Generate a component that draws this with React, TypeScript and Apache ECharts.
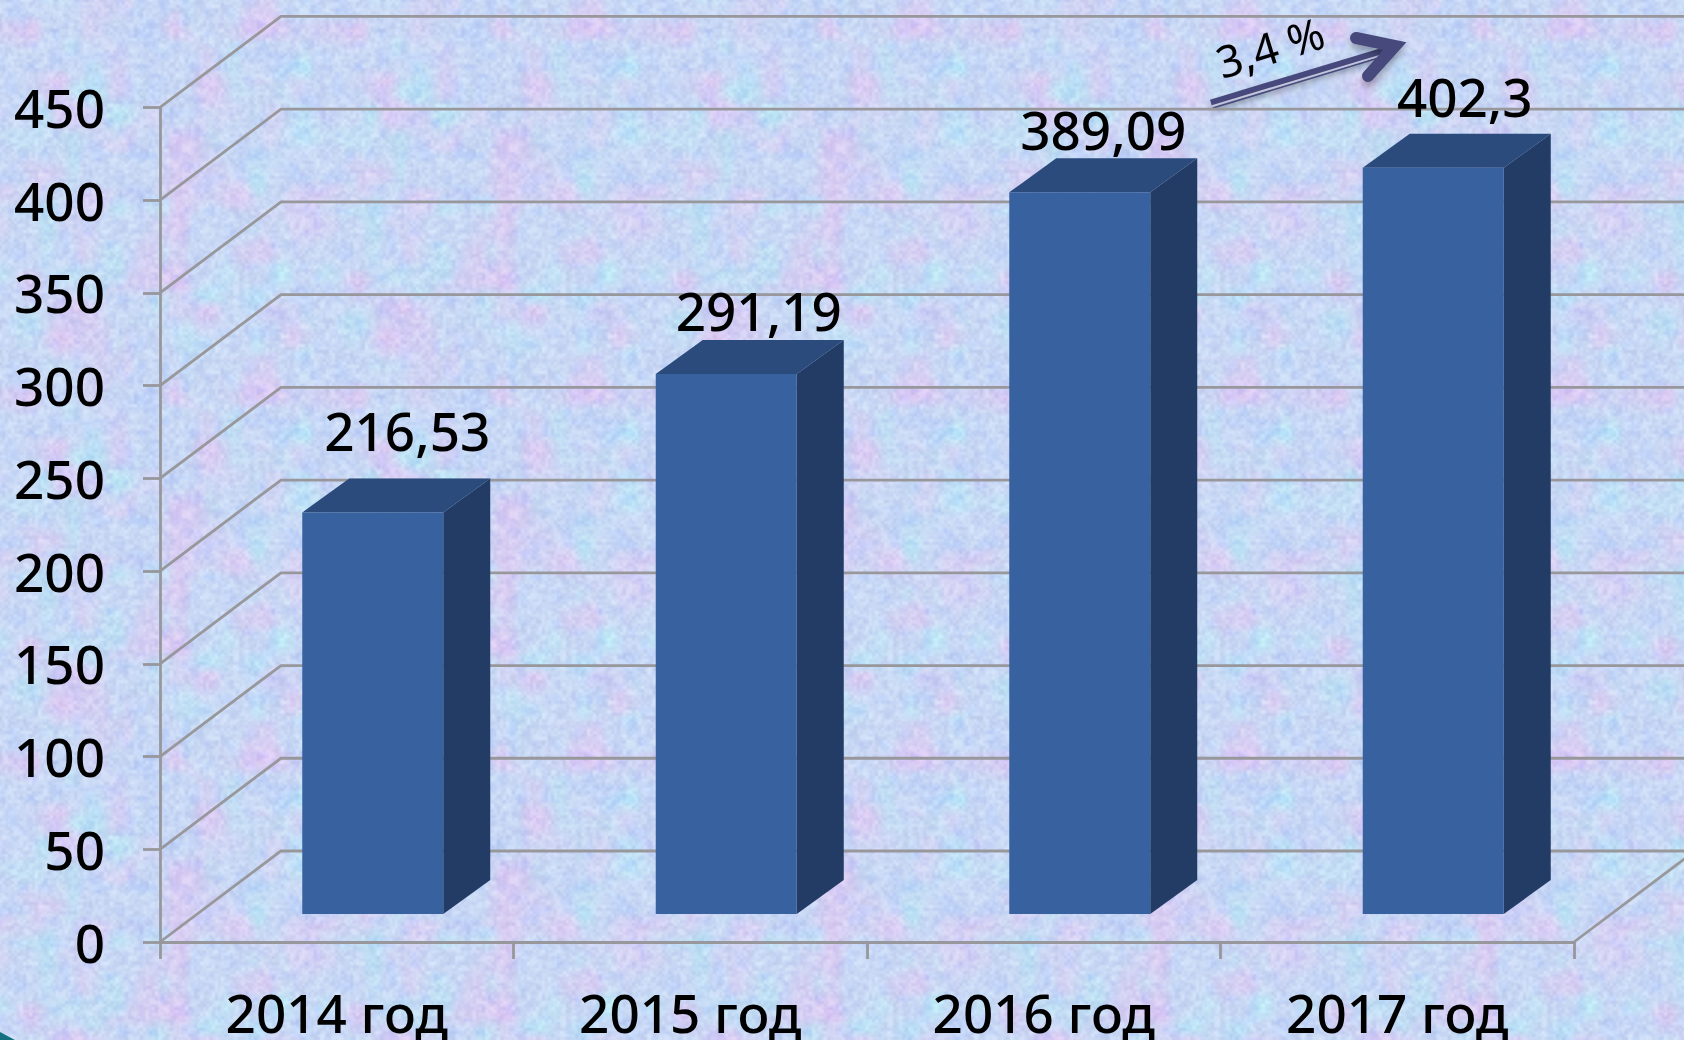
import React, { useEffect, useRef } from "react";
import * as echarts from "echarts";

const categories = ["2014 год", "2015 год", "2016 год", "2017 год"];
const values = [216.53, 291.19, 389.09, 402.3];
const yTicks = [0, 50, 100, 150, 200, 250, 300, 350, 400, 450];
const growthLabel = "3,4 %";

// Placement of the value labels relative to the top of each column (style only)
const labelShiftX = [11, 9, 0, 8];
const labelGap = [48, 29, 29, 37];

const FONT = '"Noto Sans", "Open Sans", sans-serif';
const LINE = "#97979c";
const DEPTH_X = 121;
const DEPTH_Y = 91;
const BAR_DX = 47;
const BAR_DY = 34;
const BAR_SHIFT_X = 36;
const BAR_SHIFT_Y = -28;
const BAR_W = 141;
const LINE_W = 2.8;

function makeTexture(): string {
  const w = 327;
  const h = 366;
  const c = document.createElement("canvas");
  c.width = w;
  c.height = h;
  const ctx = c.getContext("2d")!;
  let seed = 12345;
  const rnd = () => {
    seed = (seed * 1664525 + 1013904223) >>> 0;
    return seed / 4294967296;
  };
  const layer = (n: number) => {
    const cols = Math.round(w / n);
    const rows = Math.round(h / n);
    const g: number[] = [];
    for (let i = 0; i < cols * rows; i++) g.push(rnd());
    return (x: number, y: number) => {
      const fx = (x / w) * cols;
      const fy = (y / h) * rows;
      const ix = Math.floor(fx);
      const iy = Math.floor(fy);
      const sx = fx - ix;
      const sy = fy - iy;
      const tx = sx * sx * (3 - 2 * sx);
      const ty = sy * sy * (3 - 2 * sy);
      const at = (a: number, b: number) => g[((b % rows) * cols) + (a % cols)];
      const top = at(ix, iy) * (1 - tx) + at(ix + 1, iy) * tx;
      const bot = at(ix, iy + 1) * (1 - tx) + at(ix + 1, iy + 1) * tx;
      return top * (1 - ty) + bot * ty;
    };
  };
  const pinkA = layer(29);
  const cyanA = layer(23);
  const blueA = layer(11);
  const fine1 = layer(5);
  const fine2 = layer(3);
  const img = ctx.createImageData(w, h);
  for (let y = 0; y < h; y++) {
    for (let x = 0; x < w; x++) {
      const p = Math.max(0, pinkA(x, y) - 0.5) * 2;
      const q = Math.max(0, cyanA(x, y) - 0.5) * 2;
      const b = Math.max(0, blueA(x, y) - 0.5) * 2;
      const f = (fine1(x, y) - 0.5) * 16 + (fine2(x, y) - 0.5) * 16;
      const r = 201 + p * 20 - q * 14 - b * 12 + f;
      const gg = 216 - p * 14 + q * 12 - b * 7 + f;
      const bl = 244 - p * 2 + b * 4 + f * 0.5;
      const i = (y * w + x) * 4;
      img.data[i] = r;
      img.data[i + 1] = gg;
      img.data[i + 2] = bl;
      img.data[i + 3] = 255;
    }
  }
  ctx.putImageData(img, 0, 0);
  return c.toDataURL("image/png");
}

export default function App() {
  const ref = useRef<HTMLDivElement>(null);
  useEffect(() => {
    document.body.style.margin = "0";
    document.body.style.overflow = "hidden";
    const el = ref.current!;
    el.style.backgroundImage = `url(${makeTexture()})`;
    const chart = echarts.init(el, undefined, { renderer: "svg" });
    const lineStyle = { stroke: LINE, lineWidth: LINE_W, fill: "none" };
    chart.setOption({
      animation: false,
      backgroundColor: "transparent",
      grid: { left: 160, right: 110, top: 107.4, bottom: 98, containLabel: false },
      xAxis: {
        type: "category",
        data: categories,
        boundaryGap: true,
        axisLine: { show: true, lineStyle: { color: LINE, width: LINE_W } },
        axisTick: { show: true, length: 17, alignWithLabel: false, lineStyle: { color: LINE, width: LINE_W } },
        axisLabel: { interval: 0, margin: 46, fontFamily: FONT, fontWeight: 500, fontSize: 53, lineHeight: 48, color: "#000" },
        splitLine: { show: false },
      },
      yAxis: {
        type: "value",
        min: 0,
        max: 450,
        interval: 50,
        axisLine: { show: true, lineStyle: { color: LINE, width: LINE_W } },
        axisTick: { show: true, length: 17, lineStyle: { color: LINE, width: LINE_W } },
        axisLabel: { margin: 55, fontFamily: FONT, fontWeight: 500, fontSize: 53, color: "#000", padding: [0, 0, 4, 0] },
        splitLine: { show: false },
      },
      series: [
        {
          type: "custom",
          silent: true,
          z: 1,
          encode: { x: 0, y: 1 },
          data: yTicks.map((v) => [0, v]),
          renderItem: (params: any, api: any) => {
            const cs = params.coordSys;
            const y = api.coord([0, api.value(1)])[1];
            const x0 = cs.x;
            const children: any[] = [
              {
                type: "polyline",
                shape: { points: [[x0, y], [x0 + DEPTH_X, y - DEPTH_Y], [1700, y - DEPTH_Y]] },
                style: lineStyle,
              },
            ];
            if (api.value(1) === 0) {
              const xr = cs.x + cs.width;
              children.push({
                type: "line",
                shape: { x1: xr, y1: y, x2: xr + DEPTH_X, y2: y - DEPTH_Y },
                style: lineStyle,
              });
            }
            return { type: "group", children };
          },
        },
        {
          type: "custom",
          silent: true,
          z: 2,
          encode: { x: 0, y: 1 },
          data: values.map((v, i) => [i, v]),
          renderItem: (params: any, api: any) => {
            const i = api.value(0);
            const v = api.value(1);
            const top = api.coord([i, v]);
            const base = api.coord([i, 0]);
            const cx = top[0] + BAR_SHIFT_X;
            const l = cx - BAR_W / 2;
            const r = cx + BAR_W / 2;
            const t = top[1] + BAR_SHIFT_Y;
            const b = base[1] + BAR_SHIFT_Y;
            return {
              type: "group",
              children: [
                {
                  type: "polygon",
                  shape: { points: [[r, t], [r + BAR_DX, t - BAR_DY], [r + BAR_DX, b - BAR_DY], [r, b]] },
                  style: { fill: "#223c66" },
                },
                {
                  type: "polygon",
                  shape: { points: [[l, t], [l + BAR_DX, t - BAR_DY], [r + BAR_DX, t - BAR_DY], [r, t]] },
                  style: { fill: "#2a4b7b" },
                },
                {
                  type: "rect",
                  shape: { x: l, y: t, width: BAR_W, height: b - t },
                  style: { fill: "#38629f" },
                },
                {
                  type: "text",
                  style: {
                    text: String(v).replace(".", ","),
                    x: cx + BAR_DX / 2 + labelShiftX[i],
                    y: t - BAR_DY - labelGap[i],
                    align: "center",
                    verticalAlign: "middle",
                    font: `500 53px ${FONT}`,
                    fill: "#000",
                  },
                },
              ],
            };
          },
        },
      ],
      graphic: [
        {
          type: "group",
          z: 10,
          silent: true,
          children: [
            {
              type: "line",
              shape: { x1: 1211, y1: 103, x2: 1390, y2: 49 },
              style: { stroke: "#474a7c", lineWidth: 7, shadowBlur: 7, shadowOffsetY: 5, shadowColor: "rgba(0,0,0,0.35)" },
            },
            {
              type: "line",
              shape: { x1: 1213, y1: 108, x2: 1385, y2: 56 },
              style: { stroke: "#474a7c", lineWidth: 1.6 },
            },
            {
              type: "line",
              shape: { x1: 1212, y1: 106, x2: 1387, y2: 53.5 },
              style: { stroke: "#c3c6dc", lineWidth: 1.8 },
            },
            {
              type: "polyline",
              shape: { points: [[1356, 38], [1395, 46], [1368, 76]] },
              style: {
                stroke: "#474a7c",
                lineWidth: 12,
                lineCap: "round",
                lineJoin: "miter",
                fill: "none",
                shadowBlur: 7,
                shadowOffsetY: 5,
                shadowColor: "rgba(0,0,0,0.3)",
              },
            },
            {
              type: "text",
              x: 1270,
              y: 47,
              rotation: (17 * Math.PI) / 180,
              style: {
                text: growthLabel,
                x: 0,
                y: 0,
                align: "center",
                verticalAlign: "middle",
                font: `44px ${FONT}`,
                fill: "#000",
              },
            },
            {
              type: "polygon",
              shape: { points: [[0, 1032], [15, 1040], [0, 1040]] },
              style: { fill: "#14707f" },
            },
          ],
        },
      ],
    });
    return () => chart.dispose();
  }, []);
  return <div ref={ref} style={{ position: "fixed", left: 0, top: 0, width: 1684, height: 1040 }} />;
}
